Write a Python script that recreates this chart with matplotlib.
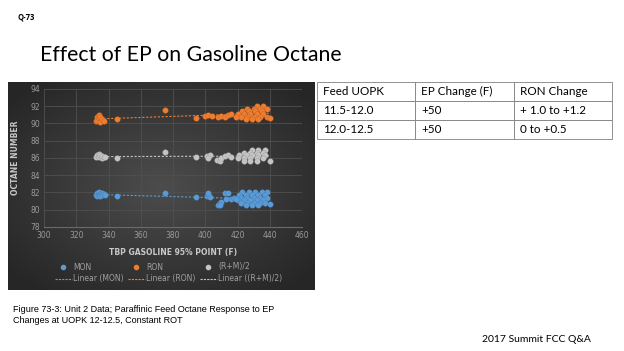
import numpy as np
import matplotlib
matplotlib.use("Agg")
import matplotlib.pyplot as plt
from matplotlib.lines import Line2D

# ---- data ----
mon_x = [332, 333, 333, 334, 334, 335, 335, 336, 336, 337, 338,
         345, 375, 394, 401, 402, 403, 402, 408, 409, 410, 409,
         412, 414, 416, 413,
         423, 427, 431, 435, 438,
         421, 425, 429, 433, 437,
         418, 422, 426, 430, 434, 438,
         420, 424, 428, 432, 436,
         422, 426, 430, 434, 437,
         425, 429, 433, 440, 419]
mon_y = [81.7, 81.9, 81.6, 82.0, 81.7, 81.8, 81.6, 81.9, 81.7, 81.8, 81.7,
         81.6, 81.9, 81.5, 81.6, 81.8, 81.5, 81.9, 80.6, 80.8, 80.9, 80.5,
         81.9, 81.9, 81.3, 81.3,
         82.0, 82.0, 82.0, 82.0, 82.0,
         81.7, 81.7, 81.7, 81.7, 81.7,
         81.4, 81.4, 81.4, 81.4, 81.4, 81.4,
         81.1, 81.1, 81.1, 81.1, 81.1,
         80.8, 80.8, 80.8, 80.8, 80.8,
         80.5, 80.5, 80.5, 80.7, 81.2]

ron_x = [332, 333, 333, 334, 334, 335, 335, 336, 337,
         345, 375, 394, 400, 402, 404, 408, 410, 412, 414, 416,
         432, 436,
         426, 430, 434, 438,
         423, 427, 431, 435,
         420, 424, 428, 432, 436,
         422, 426, 430, 434, 438,
         425, 429, 433, 440, 419]
ron_y = [90.3, 90.8, 90.4, 91.0, 90.6, 90.2, 90.7, 90.5, 90.3,
         90.5, 91.6, 90.6, 90.9, 91.0, 90.9, 90.7, 90.9, 90.8, 91.0, 91.1,
         92.0, 92.0,
         91.7, 91.7, 91.7, 91.7,
         91.4, 91.4, 91.4, 91.4,
         91.1, 91.1, 91.1, 91.1, 91.1,
         90.8, 90.8, 90.8, 90.8, 90.8,
         90.5, 90.5, 90.5, 90.6, 90.8]

avg_x = [332, 333, 334, 334, 335, 336, 336, 337, 338,
         345, 375, 394, 401, 403, 402, 407, 409, 410, 412, 414, 416,
         429, 433, 437,
         424, 428, 432, 436,
         421, 425, 429, 433, 437,
         420, 424, 428, 432, 436,
         424, 428, 432, 440]
avg_y = [86.1, 86.3, 86.5, 86.1, 86.3, 86.0, 86.2, 86.1, 86.1,
         86.0, 86.7, 86.1, 86.2, 86.3, 86.0, 85.8, 85.7, 86.0, 86.2, 86.3, 86.1,
         86.9, 86.9, 86.9,
         86.6, 86.6, 86.6, 86.6,
         86.3, 86.3, 86.3, 86.3, 86.3,
         86.0, 86.0, 86.0, 86.0, 86.0,
         85.7, 85.7, 85.7, 85.7]

series = [("MON", mon_x, mon_y, "#5b9bd5", "#3a6f9f"),
          ("RON", ron_x, ron_y, "#ed7d31", "#b0561c"),
          ("(R+M)/2", avg_x, avg_y, "#c4c4c4", "#8a8a8a")]

table_rows = [["Feed UOPK", "EP Change (F)", "RON Change"],
              ["11.5-12.0", "+50", "+ 1.0 to +1.2"],
              ["12.0-12.5", "+50", "0 to +0.5"]]

W, H = 624, 351
fig = plt.figure(figsize=(W / 100, H / 100), dpi=100)
fig.patch.set_facecolor("white")


def fx(px):
    return px / W


def fy(py):
    return 1 - py / H


# dark gradient panel behind the chart
bg = fig.add_axes([fx(8), fy(290), fx(307), 208 / H])
gx, gy = np.meshgrid(np.linspace(-1, 1, 200), np.linspace(-1, 1, 140))
r = np.clip(np.sqrt(gx ** 2 + gy ** 2) / 1.3, 0, 1)
shade = 0.30 - 0.15 * r
bg.imshow(np.dstack([shade, shade, shade]), aspect="auto",
          extent=[0, 1, 0, 1])
bg.set_axis_off()

ax = fig.add_axes([fx(44), fy(227), fx(258), 138 / H])
ax.set_facecolor("none")
for name, xs, ys, col, edge in series:
    ax.scatter(xs, ys, s=17, color=col, edgecolors=edge,
               linewidths=0.2, zorder=3)
    k, b = np.polyfit(xs, ys, 1)
    lx = np.array([min(xs), max(xs)])
    ax.plot(lx, k * lx + b, ls=(0, (2, 1.5)), lw=0.8, color=col, zorder=2)

ax.set_xlim(300, 460)
ax.set_ylim(78, 94)
ax.set_xticks(np.arange(300, 461, 20))
ax.set_yticks(np.arange(78, 95, 2))
ax.grid(True, color="#505050", lw=0.6)
ax.set_axisbelow(True)
for s in ax.spines.values():
    s.set_visible(False)
ax.spines["bottom"].set_visible(True)
ax.spines["bottom"].set_color("#6a6a6a")
ax.tick_params(length=0, labelsize=5.5, colors="#9a9a9a", pad=3)
ax.set_xlabel("TBP GASOLINE 95% POINT (F)", fontsize=5.5, color="#c8c8c8",
              fontweight="bold", labelpad=6)
ax.set_ylabel("OCTANE NUMBER", fontsize=5.5, color="#c8c8c8",
              fontweight="bold", labelpad=7)

# legend, laid out like the Excel one (markers on row 1, trend lines on row 2)
leg_cols = [55, 128, 200]
for (name, _, _, col, _), x0 in zip(series, leg_cols):
    fig.add_artist(Line2D([fx(x0 + 8)], [fy(267)], marker="o", ls="none",
                          color=col, markersize=3, transform=fig.transFigure))
    fig.text(fx(x0 + 18), fy(267), name, fontsize=5.5, color="#a0a0a0",
             va="center")
    fig.add_artist(Line2D([fx(x0), fx(x0 + 17)], [fy(279), fy(279)],
                          ls=(0, (2, 1)), lw=0.8, color=col,
                          transform=fig.transFigure))
    fig.text(fx(x0 + 18), fy(279), "Linear (%s)" % name, fontsize=5.5,
             color="#a0a0a0", va="center")

# slide texts
fig.text(fx(18), fy(17), "Q-73", fontsize=5.5, fontweight="bold",
         va="center", family="Open Sans")
fig.text(fx(40), fy(55), "Effect of EP on Gasoline Octane", fontsize=15.3,
         va="center", family="Lato")
fig.text(fx(13), fy(315), "Figure 73-3: Unit 2 Data; Paraffinic Feed Octane Response to EP\n"
         "Changes at UOPK 12-12.5, Constant ROT", fontsize=6.5,
         va="center", family="Liberation Sans", linespacing=1.2)
fig.text(fx(482), fy(340), "2017 Summit FCC Q&A", fontsize=7.5,
         va="center", family="Lato")

# table
tab = fig.add_axes([fx(317), fy(139), fx(295), 57 / H])
cells = tab.table(cellText=table_rows, cellLoc="left", loc="center",
                  bbox=[0, 0, 1, 1])
cells.auto_set_font_size(False)
for (ri, ci), cell in cells.get_celld().items():
    cell.set_edgecolor("#808080")
    cell.set_linewidth(0.6)
    cell.get_text().set_fontsize(8.4)
    cell.get_text().set_family("Lato")
    cell.PAD = 0.06
tab.set_axis_off()

fig.savefig("out.png", dpi=100)
